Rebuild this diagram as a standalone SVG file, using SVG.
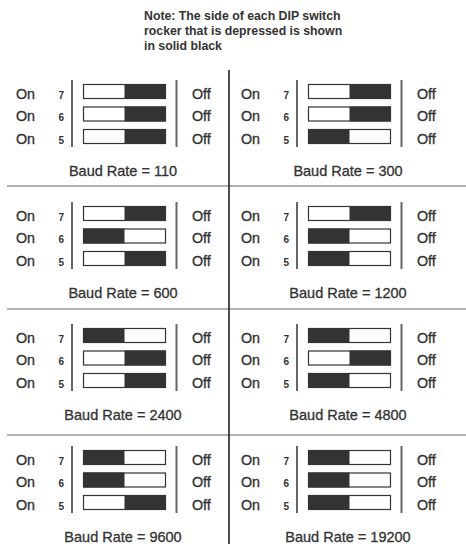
<svg xmlns="http://www.w3.org/2000/svg" width="466" height="544" viewBox="0 0 466 544">
<style>
.note{font-family:"Liberation Sans",Arial,sans-serif;font-size:12.3px;font-weight:bold;fill:#333}
.lbl{font-family:"Liberation Sans",Arial,sans-serif;font-size:14.3px;fill:#333;stroke:#333;stroke-width:0.35}
.num{font-family:"Liberation Sans",Arial,sans-serif;font-size:10px;font-weight:bold;fill:#333;text-anchor:end}
.baud{font-family:"Liberation Sans",Arial,sans-serif;font-size:14.5px;fill:#333;stroke:#333;stroke-width:0.3;text-anchor:middle}
.bar{stroke:#666;stroke-width:2;fill:none}
.sw{fill:#fff;stroke:#333;stroke-width:1.2}
.blk{fill:#333}
.div{stroke:#999;stroke-width:1.5;fill:none}
.ctr{stroke:#222;stroke-width:1.6;fill:none}
</style>
<defs>
<g id="frame">
<text class="lbl" x="16" y="98.5">On</text>
<text class="lbl" x="16" y="121">On</text>
<text class="lbl" x="16" y="143.5">On</text>
<text class="num" x="64" y="98.5">7</text>
<text class="num" x="64" y="121">6</text>
<text class="num" x="64" y="143.5">5</text>
<line class="bar" x1="72" y1="80" x2="72" y2="147"/>
<line class="bar" x1="176.5" y1="80" x2="176.5" y2="147"/>
<rect class="sw" x="83.5" y="84.5" width="82" height="14"/>
<rect class="sw" x="83.5" y="107" width="82" height="14"/>
<rect class="sw" x="83.5" y="129.5" width="82" height="14"/>
<text class="lbl" x="192" y="98.5">Off</text>
<text class="lbl" x="192" y="121">Off</text>
<text class="lbl" x="192" y="143.5">Off</text>
</g>
<rect id="L7" class="blk" x="83" y="84" width="41.5" height="15"/>
<rect id="R7" class="blk" x="124.5" y="84" width="41.5" height="15"/>
<rect id="L6" class="blk" x="83" y="106.5" width="41.5" height="15"/>
<rect id="R6" class="blk" x="124.5" y="106.5" width="41.5" height="15"/>
<rect id="L5" class="blk" x="83" y="129" width="41.5" height="15"/>
<rect id="R5" class="blk" x="124.5" y="129" width="41.5" height="15"/>
</defs>
<g id="note">
<text class="note" x="144" y="20">Note: The side of each DIP switch</text>
<text class="note" x="144" y="35">rocker that is depressed is shown</text>
<text class="note" x="144" y="50">in solid black</text>
</g>
<g id="connectors">
<line class="div" x1="7" y1="186" x2="466" y2="186"/>
<line class="div" x1="7" y1="309" x2="466" y2="309"/>
<line class="div" x1="7" y1="435" x2="466" y2="435"/>
<line class="ctr" x1="229" y1="70" x2="229" y2="544"/>
</g>
<g id="baud110">
<use href="#frame"/><use href="#R7"/><use href="#R6"/><use href="#R5"/>
<text class="baud" x="123" y="176">Baud Rate = 110</text>
</g>
<g id="baud300" transform="translate(225,0)">
<use href="#frame"/><use href="#R7"/><use href="#R6"/><use href="#L5"/>
<text class="baud" x="123" y="176">Baud Rate = 300</text>
</g>
<g id="baud600" transform="translate(0,122)">
<use href="#frame"/><use href="#R7"/><use href="#L6"/><use href="#R5"/>
<text class="baud" x="123" y="176">Baud Rate = 600</text>
</g>
<g id="baud1200" transform="translate(225,122)">
<use href="#frame"/><use href="#R7"/><use href="#L6"/><use href="#L5"/>
<text class="baud" x="123" y="176">Baud Rate = 1200</text>
</g>
<g id="baud2400" transform="translate(0,244)">
<use href="#frame"/><use href="#L7"/><use href="#R6"/><use href="#R5"/>
<text class="baud" x="123" y="176">Baud Rate = 2400</text>
</g>
<g id="baud4800" transform="translate(225,244)">
<use href="#frame"/><use href="#L7"/><use href="#R6"/><use href="#L5"/>
<text class="baud" x="123" y="176">Baud Rate = 4800</text>
</g>
<g id="baud9600" transform="translate(0,366)">
<use href="#frame"/><use href="#L7"/><use href="#L6"/><use href="#R5"/>
<text class="baud" x="123" y="176">Baud Rate = 9600</text>
</g>
<g id="baud19200" transform="translate(225,366)">
<use href="#frame"/><use href="#L7"/><use href="#L6"/><use href="#L5"/>
<text class="baud" x="123" y="176">Baud Rate = 19200</text>
</g>
</svg>
